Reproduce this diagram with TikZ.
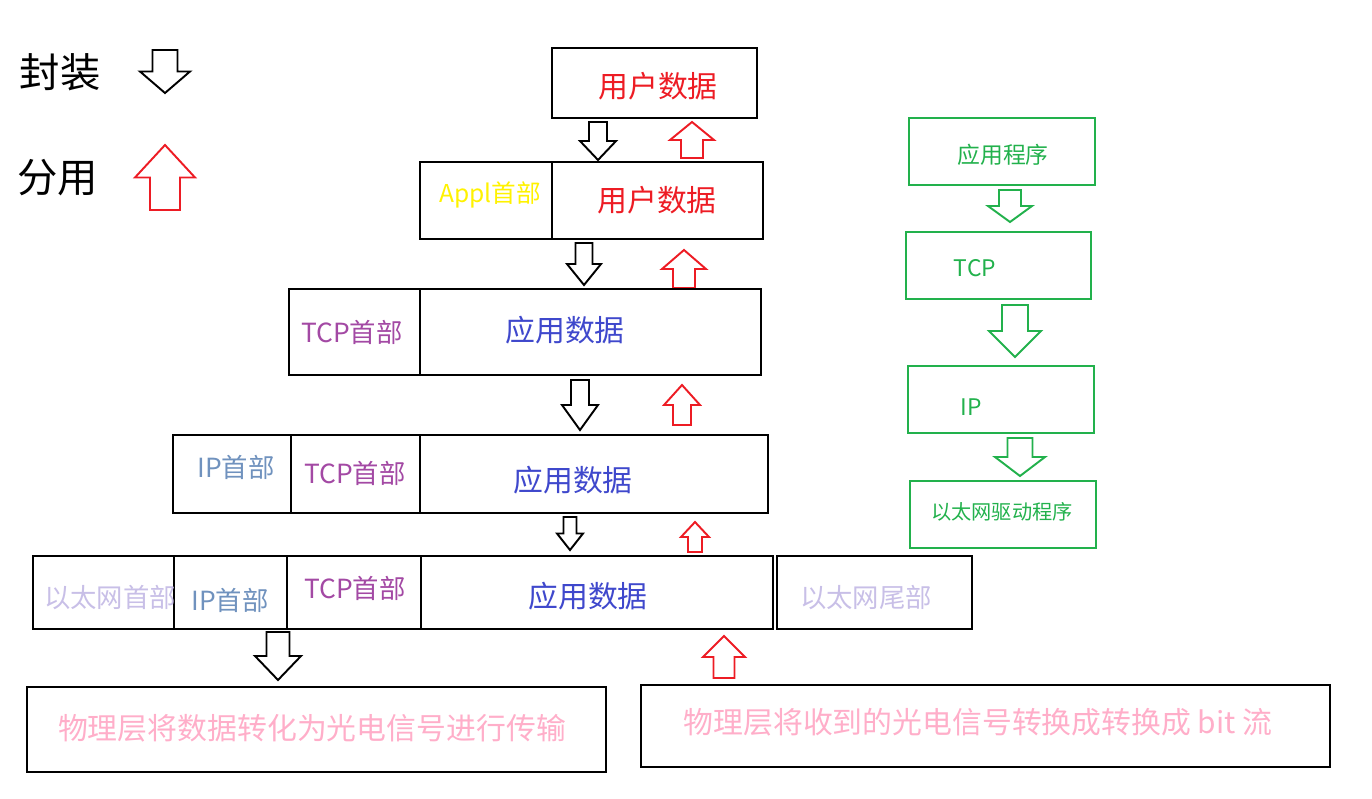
\documentclass[tikz,border=0pt]{standalone}
\usepackage{fontspec}
\setmainfont{Noto Sans CJK SC}
\definecolor{cred}{HTML}{ED1C24}
\definecolor{cyel}{HTML}{FFF200}
\definecolor{cpur}{HTML}{A349A4}
\definecolor{cblu}{HTML}{3F48CC}
\definecolor{cste}{HTML}{7092BE}
\definecolor{clav}{HTML}{C8BFE7}
\definecolor{cpnk}{HTML}{FFAEC9}
\definecolor{cgrn}{HTML}{22B14C}
\newcommand\darr[5]{% color,x,ytop,ybot,halfwidth
 \pgfmathsetmacro\hs{#5*0.5}\pgfmathsetmacro\ym{#3+0.5*(#4-#3)}
 \draw[#1,line width=1.1pt,line join=miter] (#2-\hs,#3) -- (#2+\hs,#3) -- (#2+\hs,\ym) -- (#2+#5,\ym) -- (#2,#4) -- (#2-#5,\ym) -- (#2-\hs,\ym) -- cycle;}
\newcommand\uarr[5]{% color,x,ytop,ybot,halfwidth
 \pgfmathsetmacro\hs{#5*0.5}\pgfmathsetmacro\ym{#3+0.5*(#4-#3)}
 \draw[#1,line width=1.1pt,line join=miter] (#2-\hs,#4) -- (#2+\hs,#4) -- (#2+\hs,\ym) -- (#2+#5,\ym) -- (#2,#3) -- (#2-#5,\ym) -- (#2-\hs,\ym) -- cycle;}
\begin{document}
\begin{tikzpicture}[x=0.02cm,y=-0.02cm,
 bx/.style={draw=black,line width=1.1pt},
 gb/.style={draw=cgrn,line width=1.1pt},
 t/.style={inner sep=0pt,font=\fontsize{#1}{#1}\selectfont}]
\useasboundingbox (0,0) rectangle (1372,798);
% legend
\node[t=23pt] (l1) at (60,72) {封装};
\node[t=23pt] (l2) at (58,178) {分用};
\darr{black}{165}{50}{93}{25}
\uarr{cred}{165}{145}{210}{30}
% box1
\draw[bx] (552,48) rectangle (757,118);
\node[t=17pt,text=cred] (b1) at (658,86) {用户数据};
\darr{black}{598}{122}{160}{18}
\uarr{cred}{692}{122}{158}{22}
% box2
\draw[bx] (420,162) rectangle (763,239); \draw[bx] (552,162) -- (552,239);
\node[t=14pt,text=cyel] (a2) at (490,195) {Appl首部};
\node[t=17pt,text=cred] (b2) at (657,200) {用户数据};
\darr{black}{584}{243}{285}{17}
\uarr{cred}{684}{250}{288}{22}
% box3
\draw[bx] (289,289) rectangle (761,375); \draw[bx] (420,289) -- (420,375);
\node[t=15pt,text=cpur] (c3) at (352,332) {TCP首部};
\node[t=17pt,text=cblu] (d3) at (565,330) {应用数据};
\darr{black}{580}{380}{430}{18}
\uarr{cred}{682}{385}{425}{18}
% box4
\draw[bx] (173,435) rectangle (768,513); \draw[bx] (291,435) -- (291,513); \draw[bx] (420,435) -- (420,513);
\node[t=15pt,text=cste] (i4) at (236,467) {IP首部};
\node[t=15pt,text=cpur] (c4) at (355,473) {TCP首部};
\node[t=17pt,text=cblu] (d4) at (573,480) {应用数据};
\darr{black}{570}{517}{550}{13}
\uarr{cred}{695}{522}{552}{14}
% box5
\draw[bx] (33,556) rectangle (773,629); \draw[bx] (174,556) -- (174,629); \draw[bx] (287,556) -- (287,629); \draw[bx] (421,556) -- (421,629);
\draw[bx] (777,556) rectangle (972,629);
\node[t=15pt,text=clav] (e5) at (110,598) {以太网首部};
\node[t=15pt,text=cste] (i5) at (230,600) {IP首部};
\node[t=15pt,text=cpur] (c5) at (355,588) {TCP首部};
\node[t=17pt,text=cblu] (d5) at (588,596) {应用数据};
\node[t=15pt,text=clav] (w5) at (866,598) {以太网尾部};
\darr{black}{278}{632}{680}{23}
\uarr{cred}{724}{636}{678}{21}
% bottom
\draw[bx] (27,687) rectangle (606,772);
\node[t=17pt,text=cpnk] (p1) at (312,728) {物理层将数据转化为光电信号进行传输};
\draw[bx] (641,685) rectangle (1330,767);
\node[t=17pt,text=cpnk] (p2) at (978,722) {物理层将收到的光电信号转换成转换成 bit 流};
% green stack
\draw[gb] (909,118) rectangle (1095,185);
\node[t=13pt,text=cgrn] (g1) at (1003,155) {应用程序};
\darr{cgrn}{1010}{190}{222}{22}
\draw[gb] (906,232) rectangle (1091,299);
\node[t=13pt,text=cgrn] (g2) at (975,268) {TCP};
\darr{cgrn}{1015}{305}{357}{26}
\draw[gb] (908,366) rectangle (1094,433);
\node[t=13pt,text=cgrn] (g3) at (971,407) {IP};
\darr{cgrn}{1020}{438}{476}{25}
\draw[gb] (910,481) rectangle (1096,548);
\node[t=11.5pt,text=cgrn] (g4) at (1002,512) {以太网驱动程序};
\end{tikzpicture}
\end{document}
